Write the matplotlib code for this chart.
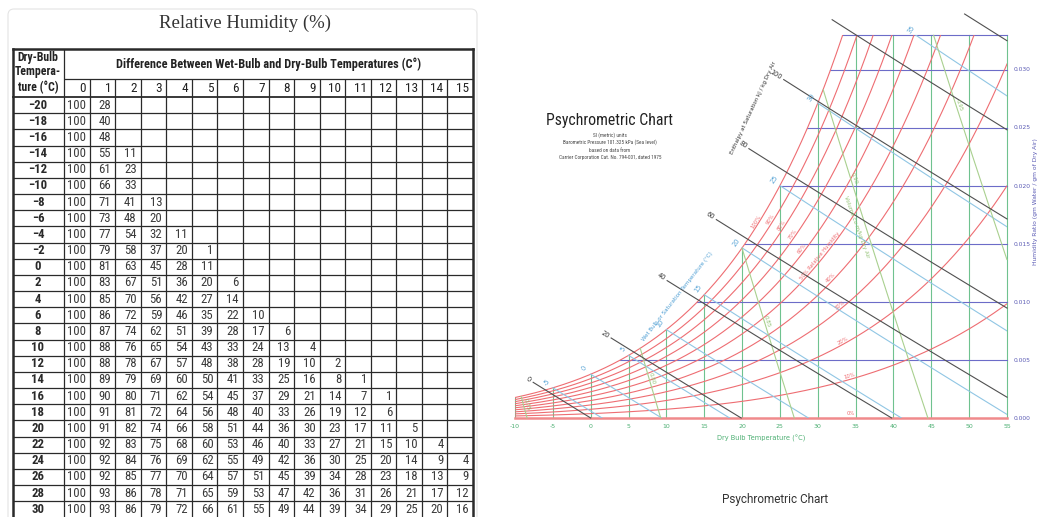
import numpy as np
import matplotlib
matplotlib.use('Agg')
import matplotlib.pyplot as plt
from matplotlib import font_manager as fm
from matplotlib.patches import FancyBboxPatch

# ---- relative humidity table ----
dry_bulb = [-20, -18, -16, -14, -12, -10, -8, -6, -4, -2, 0, 2, 4, 6, 8,
            10, 12, 14, 16, 18, 20, 22, 24, 26, 28, 30]
depression = list(range(16))
rh_rows = [
    [100, 28],
    [100, 40],
    [100, 48],
    [100, 55, 11],
    [100, 61, 23],
    [100, 66, 33],
    [100, 71, 41, 13],
    [100, 73, 48, 20],
    [100, 77, 54, 32, 11],
    [100, 79, 58, 37, 20, 1],
    [100, 81, 63, 45, 28, 11],
    [100, 83, 67, 51, 36, 20, 6],
    [100, 85, 70, 56, 42, 27, 14],
    [100, 86, 72, 59, 46, 35, 22, 10],
    [100, 87, 74, 62, 51, 39, 28, 17, 6],
    [100, 88, 76, 65, 54, 43, 33, 24, 13, 4],
    [100, 88, 78, 67, 57, 48, 38, 28, 19, 10, 2],
    [100, 89, 79, 69, 60, 50, 41, 33, 25, 16, 8, 1],
    [100, 90, 80, 71, 62, 54, 45, 37, 29, 21, 14, 7, 1],
    [100, 91, 81, 72, 64, 56, 48, 40, 33, 26, 19, 12, 6],
    [100, 91, 82, 74, 66, 58, 51, 44, 36, 30, 23, 17, 11, 5],
    [100, 92, 83, 75, 68, 60, 53, 46, 40, 33, 27, 21, 15, 10, 4],
    [100, 92, 84, 76, 69, 62, 55, 49, 42, 36, 30, 25, 20, 14, 9, 4],
    [100, 92, 85, 77, 70, 64, 57, 51, 45, 39, 34, 28, 23, 18, 13, 9],
    [100, 93, 86, 78, 71, 65, 59, 53, 47, 42, 36, 31, 26, 21, 17, 12],
    [100, 93, 86, 79, 72, 66, 61, 55, 49, 44, 39, 34, 29, 25, 20, 16],
]

# ---- psychrometric chart scales ----
db_ticks = [-10, -5, 0, 5, 10, 15, 20, 25, 30, 35, 40, 45, 50, 55]
w_ticks = [0.000, 0.005, 0.010, 0.015, 0.020, 0.025, 0.030]
w_top = 0.033
rh_levels = [10, 20, 30, 40, 50, 60, 70, 80, 90, 100]
rh_label_t = [34.3, 33.5, 33.1, 32.0, 30.6, 28.2, 26.9, 25.5, 24.0, 22.1]
wb_levels = [-5, 0, 5, 10, 15, 20, 25, 30, 35]
enth_levels = [0, 20, 40, 60, 80, 100, 120, 140]
enth_start = [-7.6, 2.7, 10.1, 16.6, 20.9, 25.5, 31.9, 49.4]
vol_levels = [0.75, 0.80, 0.85, 0.90, 0.95]
vol_label_w = [0.0010, 0.0033, 0.0082, 0.0205, 0.0268]
P_ATM = 101.325

RED = '#ee6d72'
GREEN = '#6fc28f'
VGREEN = '#a9d08f'
BLUE = '#90c6e4'
BLACK = '#505050'
PURPLE = '#6c6cc8'


def pick_narrow():
    # first condensed face that is actually installed
    faces = [(f.name, str(f.stretch)) for f in fm.fontManager.ttflist]
    names = set(n for n, _ in faces)
    for name in ['Liberation Sans Narrow', 'Roboto Condensed', 'Open Sans Condensed',
                 'Noto Sans Condensed', 'DejaVu Sans Condensed']:
        if name in names:
            return dict(family=name)
    for name, st in faces:
        if name == 'DejaVu Sans' and st in ('condensed', '300', 'semi-condensed'):
            return dict(family='DejaVu Sans', stretch='condensed')
    return dict(family='Liberation Sans')


NARROW = pick_narrow()
is_narrow = NARROW['family'] != 'Liberation Sans'
fscale = 1.0 if is_narrow else 0.85


def w_rh(t, phi):
    p = phi * 0.61094 * np.exp(17.625 * t / (t + 243.04))
    return 0.622 * p / (P_ATM - p)


def t_sat(w):
    p = w * P_ATM / (0.622 + w)
    a = np.log(p / 0.61094)
    return 243.04 * a / (17.625 - a)


def w_enth(t, h):
    return (h - 1.006 * t) / (2501 + 1.86 * t)


def w_wetbulb(t, twb):
    ws = w_rh(twb, 1.0)
    return ((2501 - 2.326 * twb) * ws - 1.006 * (t - twb)) / (2501 + 1.86 * t - 4.186 * twb)


def t_vol(w, v):
    return v * P_ATM / (0.287042 * (1 + 1.6078 * w)) - 273.15


fig = plt.figure(figsize=(10.62, 5.17), dpi=100)
fig.patch.set_facecolor('white')

# full-figure pixel canvas for the table and free text
bg = fig.add_axes([0, 0, 1, 1])
bg.set_xlim(0, 1062)
bg.set_ylim(517, 0)
bg.set_axis_off()

card = FancyBboxPatch((8, 9), 469, 530, boxstyle='round,pad=0,rounding_size=6',
                      fc='white', ec='#e4e4e4', lw=0.8)
bg.add_patch(card)
bg.text(245, 23, 'Relative Humidity (%)', ha='center', va='center', fontsize=13.5,
        family=['Liberation Serif', 'DejaVu Serif'], color='#333333')

x0, x1, x2 = 13, 64, 473
col_w = (x2 - x1) / len(depression)
y_top, y_sub, y_head = 49, 79, 97
row_h = 16.17
y_bot = 520
ink = '#2a2a2a'
grid = dict(color=ink, lw=0.9, solid_capstyle='butt')

bg.plot([x0, x2], [y_top, y_top], color=ink, lw=1.8)
bg.plot([x0, x0], [y_top, y_bot], color=ink, lw=1.8)
bg.plot([x2, x2], [y_top, y_bot], color=ink, lw=1.8)
bg.plot([x1, x1], [y_top, y_bot], **grid)
bg.plot([x1, x2], [y_sub, y_sub], **grid)
bg.plot([x0, x2], [y_head, y_head], color=ink, lw=1.3)
for k in range(1, len(depression)):
    xc = x1 + k * col_w
    bg.plot([xc, xc], [y_sub, y_bot], **grid)
for i in range(1, len(dry_bulb)):
    yr = y_head + i * row_h
    bg.plot([x0, x2], [yr, yr], **grid)

bg.text((x1 + x2) / 2, 64, 'Difference Between Wet-Bulb and Dry-Bulb Temperatures (C\u00b0)',
        ha='center', va='center', fontsize=8.8 * fscale, fontweight='bold', color='#222222',
        **NARROW)
for txt, yy in zip(['Dry-Bulb', 'Tempera-', 'ture (\u00b0C)'], [58, 71, 87]):
    bg.text(38, yy, txt, ha='center', va='center', fontsize=8.5 * fscale, fontweight='bold',
            color='#222222', **NARROW)
for k, d in enumerate(depression):
    bg.text(x1 + (k + 1) * col_w - 4, 89, str(d), ha='right', va='center',
            fontsize=9.5 * fscale, color='#222222', **NARROW)

for i, (tdb, row) in enumerate(zip(dry_bulb, rh_rows)):
    yc = y_head + (i + 0.5) * row_h
    lab = str(tdb).replace('-', '\u2212')
    bg.text(38, yc, lab, ha='center', va='center', fontsize=9.2 * fscale, fontweight='bold',
            color=ink, **NARROW)
    for k, val in enumerate(row):
        bg.text(x1 + (k + 1) * col_w - 4, yc, str(val), ha='right', va='center',
                fontsize=9.2 * fscale, color='#3a3a3a', **NARROW)

# ---- psychrometric chart ----
bg.text(610, 120, 'Psychrometric Chart', ha='center', va='center', fontsize=11.3 * fscale,
        color='#222222', **NARROW)
sub = ['SI (metric) units', 'Barometric Pressure 101.325 kPa (Sea level)',
       'based on data from', 'Carrier Corporation Cat. No. 794-001, dated 1975']
for txt, yy in zip(sub, [135, 142.5, 150, 157.5]):
    bg.text(610, yy, txt, ha='center', va='center', fontsize=3.8 * fscale,
            color='#444444', **NARROW)
bg.text(775, 500, 'Psychrometric Chart', ha='center', va='center', fontsize=8.5,
        family=['Roboto', 'DejaVu Sans'], color='#333333')

ax = fig.add_axes([515 / 1062, 99 / 517, 492 / 1062, (418 - 35.2) / 517])
ax.set_xlim(-10, 55)
ax.set_ylim(0, w_top)
ax.set_axis_off()

lw = 0.8

# dry bulb verticals
for t in db_ticks:
    ax.plot([t, t], [0, min(w_rh(t, 1.0), w_top)], color=GREEN, lw=lw, clip_on=False)
    ax.annotate(str(t), (t, 0), xytext=(0, -8), textcoords='offset pixels',
                ha='center', va='center', fontsize=4.5, color='#4caf72')
ax.annotate('Dry Bulb Temperature (\u00b0C)', (22.5, 0), xytext=(0, -20),
            textcoords='offset pixels', ha='center', va='center', fontsize=4.8,
            color='#4caf72')

# humidity ratio horizontals
for w in w_ticks[1:] + [w_top]:
    ax.plot([t_sat(w), 55], [w, w], color=PURPLE, lw=lw, clip_on=False)
for w in w_ticks:
    ax.annotate('%.3f' % w, (55, w), xytext=(7, 0), textcoords='offset pixels',
                ha='left', va='center', fontsize=4.3, color='#5a5ab4')
ax.annotate('Humidity Ratio (gm Water / gm of Dry Air)', (55, 0.0187), xytext=(29, 0),
            textcoords='offset pixels', ha='center', va='center', rotation=90,
            fontsize=4.3, color='#5a5ab4')

# relative humidity curves
ts = np.linspace(-10, 55, 600)
for phi in rh_levels:
    ax.plot(ts, w_rh(ts, phi / 100), color=RED, lw=lw)
ax.plot([-10, 55], [0, 0], color='#f08a8c', lw=1.8, clip_on=False)


def angle_at(x, y, dx, fx):
    p1 = ax.transData.transform((x, y))
    p2 = ax.transData.transform((x + dx, fx(x + dx)))
    return np.degrees(np.arctan2(p2[1] - p1[1], p2[0] - p1[0]))


for phi, tl in zip(rh_levels, rh_label_t):
    wl = w_rh(tl, phi / 100)
    ang = angle_at(tl, wl, 0.05, lambda x: w_rh(x, phi / 100))
    txt = '50% Relative Humidity' if phi == 50 else '%d%%' % phi
    ax.annotate(txt, (tl, wl), xytext=(0, 1), textcoords='offset pixels', ha='center',
                va='bottom', rotation=ang, rotation_mode='anchor', fontsize=3.8, color=RED)
ax.annotate('0%', (34.4, 0), xytext=(0, 2), textcoords='offset pixels', ha='center',
            va='bottom', fontsize=3.8, color=RED)

# wet bulb lines
for twb in wb_levels:
    ws = w_rh(twb, 1.0)
    t_end = min(twb + (2501 - 2.326 * twb) * ws / 1.006, 55)
    tt = np.linspace(twb, t_end, 200)
    ax.plot(tt, w_wetbulb(tt, twb), color=BLUE, lw=lw)
    if ws <= w_top:
        ax.annotate(str(twb), (twb, ws), xytext=(-6, 6), textcoords='offset pixels',
                    ha='center', va='center', rotation=55, fontsize=4.8, color='#5aa5d6')
    else:
        wv = w_wetbulb(tt, twb)
        tc = tt[np.argmin(np.abs(wv - w_top))]
        ax.annotate(str(twb), (tc, w_top), xytext=(-4, 6), textcoords='offset pixels',
                    ha='center', va='center', rotation=55, fontsize=4.8, color='#5aa5d6')
ax.annotate('Wet Bulb or Saturation Temperature (\u00b0C)', (13.0, w_rh(13.0, 1.0)),
            xytext=(-12, 14), textcoords='offset pixels', ha='center', va='center',
            rotation=52, fontsize=4.0, color='#4f9fd4')

# specific volume lines
for v, wl in zip(vol_levels, vol_label_w):
    wv = np.linspace(0, 0.04, 800)
    tv = t_vol(wv, v)
    keep = (wv <= w_rh(tv, 1.0)) & (wv <= w_top) & (tv <= 55)
    ax.plot(tv[keep], wv[keep], color=VGREEN, lw=lw, clip_on=False)
    tl = t_vol(wl, v)
    p1 = ax.transData.transform((t_vol(0.0, v), 0.0))
    p2 = ax.transData.transform((t_vol(0.01, v), 0.01))
    ang = np.degrees(np.arctan2(p1[1] - p2[1], p1[0] - p2[0]))
    ax.annotate('%.2f' % v, (tl, wl), xytext=(0, 1), textcoords='offset pixels',
                ha='center', va='bottom', rotation=ang, rotation_mode='anchor',
                fontsize=4.0, color='#8fc070')
ax.annotate('Volume cu m/kg Dry Air', (t_vol(0.0165, 0.90), 0.0165), xytext=(-9, 0),
            textcoords='offset pixels', ha='center', va='center', rotation=-70,
            fontsize=4.0, color='#8fc070')

# enthalpy lines
for h, ts0 in zip(enth_levels, enth_start):
    t_end = min(h / 1.006, 55)
    tt = np.linspace(ts0, t_end, 200)
    ax.plot(tt, w_enth(tt, h), color=BLACK, lw=lw, clip_on=False)
    w0 = w_enth(ts0, h)
    ang = angle_at(ts0, w0, 0.5, lambda x: w_enth(x, h))
    ca, sa = np.cos(np.radians(ang)), np.sin(np.radians(ang))
    ax.annotate(str(h), (ts0, w0), xytext=(-3 * ca, -3 * sa), textcoords='offset pixels',
                ha='right', va='center', rotation=ang, rotation_mode='anchor',
                fontsize=4.8, color='#333333')
bg.text(753, 108, 'Enthalpy at Saturation kJ / kg Dry Air', ha='center', va='center',
        rotation=65, fontsize=4.0, color='#333333')

fig.savefig('out.png', dpi=100, facecolor='white')
